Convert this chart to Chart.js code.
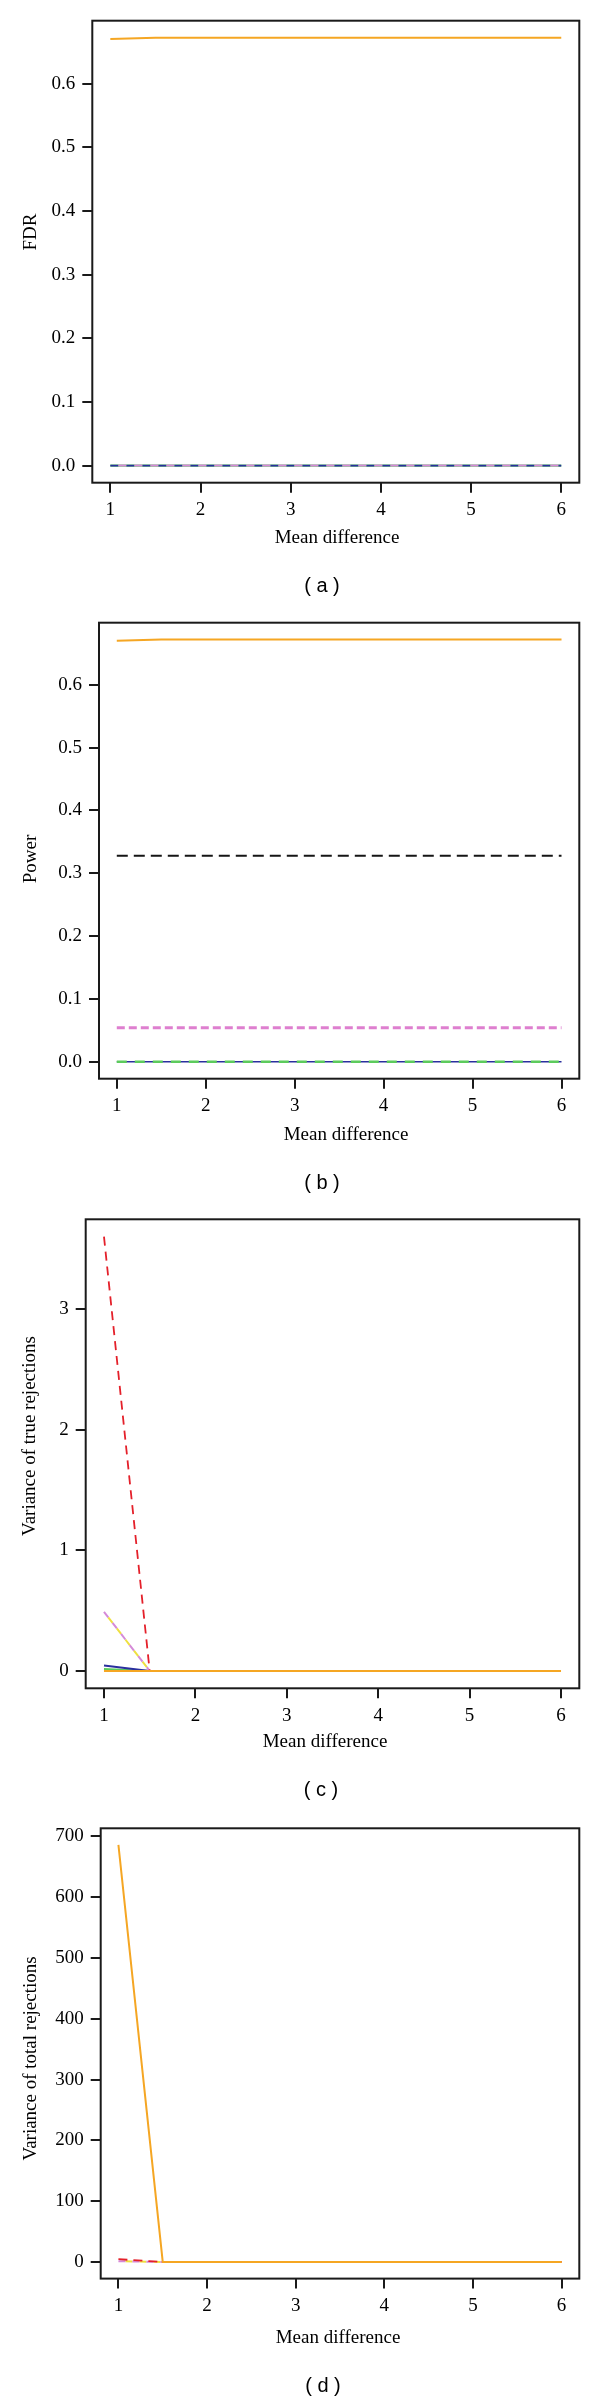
<!DOCTYPE html>
<html><head><meta charset="utf-8">
<script src="https://cdn.jsdelivr.net/npm/chart.js@4.4.1/dist/chart.umd.min.js"></script>
<style>
html,body{margin:0;padding:0;background:#fff}
body{width:600px;height:2406px;position:relative;overflow:hidden}
canvas{position:absolute;left:0}
.cap{position:absolute;font-family:"Liberation Sans",Arial,sans-serif;font-size:20px;color:#000;transform:translate(-50%,-50%);white-space:pre;line-height:1}
</style></head><body>
<canvas id="ca" width="600" height="600" style="top:0px"></canvas>
<canvas id="cb" width="600" height="600" style="top:600px"></canvas>
<canvas id="cc" width="600" height="600" style="top:1200px"></canvas>
<canvas id="cd" width="600" height="606" style="top:1800px"></canvas>
<div class="cap" style="left:322px;top:585px">( a )</div>
<div class="cap" style="left:322px;top:1182px">( b )</div>
<div class="cap" style="left:321px;top:1789px">( c )</div>
<div class="cap" style="left:323px;top:2385px">( d )</div>
<script>
// ---- data ----
const meanDiff = [1, 1.5, 2, 2.5, 3, 3.5, 4, 4.5, 5, 5.5, 6];
const xTicks = [1, 2, 3, 4, 5, 6];
const propTicks = [0, 0.1, 0.2, 0.3, 0.4, 0.5, 0.6];
const varTrueTicks = [0, 1, 2, 3];
const varTotalTicks = [0, 100, 200, 300, 400, 500, 600, 700];

// (a) FDR
const fdrOrange = [0.670, 0.672, 0.672, 0.672, 0.672, 0.672, 0.672, 0.672, 0.672, 0.672, 0.672];
const fdrBlue   = [0, 0, 0, 0, 0, 0, 0, 0, 0, 0, 0];
const fdrGreen  = [0, 0, 0, 0, 0, 0, 0, 0, 0, 0, 0];
const fdrViolet = [0, 0, 0, 0, 0, 0, 0, 0, 0, 0, 0];

// (b) Power
const powOrange = [0.670, 0.672, 0.672, 0.672, 0.672, 0.672, 0.672, 0.672, 0.672, 0.672, 0.672];
const powBlack  = [0.328, 0.328, 0.328, 0.328, 0.328, 0.328, 0.328, 0.328, 0.328, 0.328, 0.328];
const powViolet = [0.054, 0.054, 0.054, 0.054, 0.054, 0.054, 0.054, 0.054, 0.054, 0.054, 0.054];
const powBlue   = [0, 0, 0, 0, 0, 0, 0, 0, 0, 0, 0];
const powGreen  = [0, 0, 0, 0, 0, 0, 0, 0, 0, 0, 0];

// (c) Variance of true rejections
const vtRed    = [3.6, 0, 0, 0, 0, 0, 0, 0, 0, 0, 0];
const vtViolet = [0.49, 0, 0, 0, 0, 0, 0, 0, 0, 0, 0];
const vtBlue   = [0.045, 0, 0, 0, 0, 0, 0, 0, 0, 0, 0];
const vtGreen  = [0.015, 0, 0, 0, 0, 0, 0, 0, 0, 0, 0];
const vtOrange = [0, 0, 0, 0, 0, 0, 0, 0, 0, 0, 0];

// (d) Variance of total rejections
const vsOrange = [686, 0, 0, 0, 0, 0, 0, 0, 0, 0, 0];
const vsRed    = [4.5, 0, 0, 0, 0, 0, 0, 0, 0, 0, 0];
const vsViolet = [1.2, 0, 0, 0, 0, 0, 0, 0, 0, 0, 0];

// ---- styles ----
const C = {orange:'#F5A623', black:'#151515', red:'#E4202A', blue:'#2A2F9E', green:'#5CCB5C', violet:'#D58AD8', yellow:'#EEE040'};
const SERIF = '"Liberation Serif","Times New Roman",serif';

function ds(vals, color, width, dash, order, dashOffset){
  return {data: meanDiff.map((x,i)=>({x:x, y:vals[i]})), borderColor:color, borderWidth:width,
    borderDash:dash||[], borderDashOffset:dashOffset||0, pointRadius:0, tension:0, fill:false, order:order};
}

const rText = {
  id:'rText',
  afterDraw(chart, args, o){
    const ctx = chart.ctx, a = chart.chartArea;
    ctx.save();
    ctx.strokeStyle = '#1a1a1a'; ctx.lineWidth = 2;
    ctx.strokeRect(a.left, a.top, a.right - a.left, a.bottom - a.top);
    ctx.fillStyle = '#000'; ctx.font = '19px ' + SERIF;
    ctx.textAlign = 'center'; ctx.textBaseline = 'middle';
    ctx.fillText(o.xTitle, o.xx, o.xy);
    ctx.translate(o.yx, o.yy); ctx.rotate(-Math.PI/2);
    ctx.fillText(o.yTitle, 0, 0);
    ctx.restore();
  }
};

function mk(p){
  new Chart(document.getElementById(p.id), {
    type:'line',
    data:{datasets:p.datasets},
    plugins:[rText],
    options:{
      responsive:false, animation:false, events:[],
      layout:{padding:{left:0, right:600 - p.area.r, top:p.area.t, bottom:0}},
      plugins:{legend:{display:false}, tooltip:{enabled:false},
        rText:{xTitle:'Mean difference', xx:p.xt[0], xy:p.xt[1], yTitle:p.yTitle, yx:p.yt[0], yy:p.yt[1]}},
      scales:{
        x:{type:'linear', min:0.8, max:6.2,
          afterBuildTicks:s=>{s.ticks = xTicks.map(v=>({value:v}));},
          afterFit:s=>{s.height = p.h - p.area.b;},
          grid:{drawOnChartArea:false, drawTicks:true, tickLength:10, color:'#1a1a1a', lineWidth:2},
          border:{display:false},
          ticks:{padding:6, color:'#000', maxRotation:0, font:{family:SERIF, size:19}, callback:v=>String(v)}},
        y:{type:'linear', min:p.yMin, max:p.yMax,
          afterBuildTicks:s=>{s.ticks = p.yTicks.map(v=>({value:v}));},
          afterFit:s=>{s.width = p.area.l;},
          grid:{drawOnChartArea:false, drawTicks:true, tickLength:10, color:'#1a1a1a', lineWidth:2},
          border:{display:false},
          ticks:{padding:7, color:'#000', font:{family:SERIF, size:19}, callback:v=>p.dec ? Number(v).toFixed(1) : String(v)}}
      }
    }
  });
}

mk({id:'ca', h:600, area:{l:92.3, r:579.3, t:20.7, b:482.7}, yMin:-0.0269, yMax:0.6989, yTicks:propTicks, dec:true,
  yTitle:'FDR', yt:[30.6, 232], xt:[337, 538.5],
  datasets:[
    ds(fdrOrange, C.orange, 2, [], 1),
    ds(fdrViolet, C.violet, 2, [8,8], 2, 8),
    ds(fdrBlue, C.blue, 1.8, [8,8], 3),
    ds(fdrGreen, C.green, 2.2, [], 4)
  ]});

mk({id:'cb', h:600, area:{l:99, r:579.3, t:22.7, b:478.7}, yMin:-0.0269, yMax:0.6989, yTicks:propTicks, dec:true,
  yTitle:'Power', yt:[30.6, 259], xt:[346, 535],
  datasets:[
    ds(powOrange, C.orange, 2, [], 1),
    ds(powBlack, C.black, 1.8, [11,6], 2),
    ds(powViolet, '#DE7FCF', 3, [8,4], 3),
    ds(powGreen, C.green, 2.6, [10,8], 4),
    ds(powBlue, C.blue, 1.4, [], 5)
  ]});

mk({id:'cc', h:600, area:{l:85.7, r:579.3, t:19.3, b:488.3}, yMin:-0.144, yMax:3.744, yTicks:varTrueTicks, dec:false,
  yTitle:'Variance of true rejections', yt:[30.5, 236], xt:[325, 542],
  datasets:[
    ds(vtOrange, C.orange, 2, [], 1),
    ds(vtRed, C.red, 1.8, [9,6], 2),
    ds(vtViolet, C.violet, 2, [7,7], 3),
    ds(vtViolet, C.yellow, 2, [7,7], 4, 7),
    ds(vtBlue, C.blue, 2, [], 5),
    ds(vtGreen, C.green, 2, [], 6)
  ]});

mk({id:'cd', h:606, area:{l:100.7, r:579.3, t:28.3, b:478.6}, yMin:-27.44, yMax:713.44, yTicks:varTotalTicks, dec:false,
  yTitle:'Variance of total rejections', yt:[30.6, 258.4], xt:[338, 538],
  datasets:[
    ds(vsOrange, C.orange, 2, [], 1),
    ds(vsRed, C.red, 1.8, [9,6], 2),
    ds(vsViolet, C.violet, 2, [7,7], 3),
    ds(vsViolet, C.yellow, 2, [7,7], 4, 7)
  ]});
</script>
</body></html>
